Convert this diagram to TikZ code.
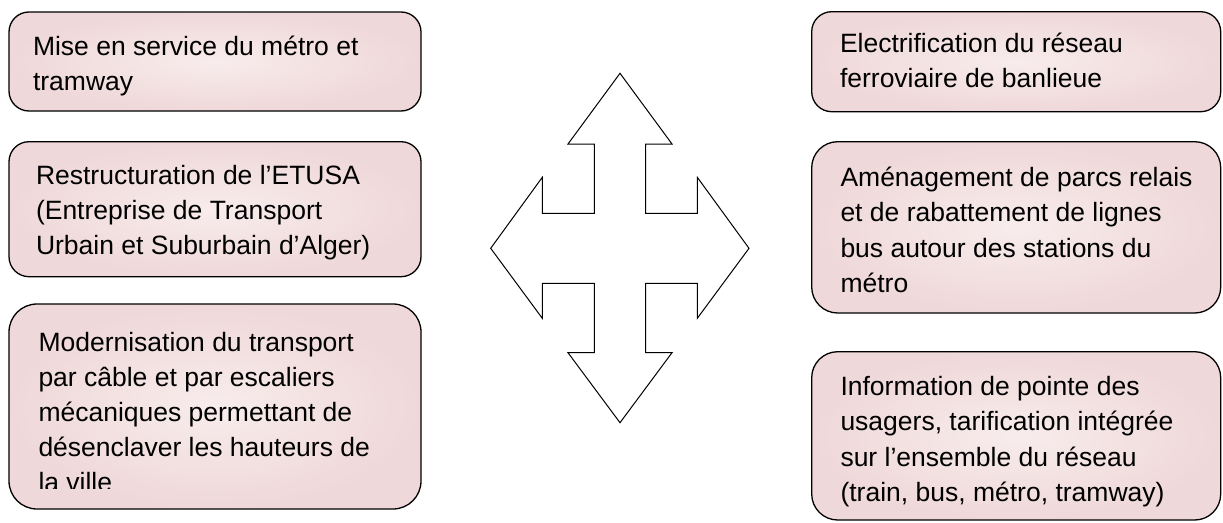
\documentclass[tikz,border=0pt]{standalone}
\usepackage{fontspec}
\setmainfont{Liberation Sans}
\definecolor{boxin}{RGB}{248,236,236}
\definecolor{boxout}{RGB}{239,216,217}
\tikzset{
  box/.style={draw=black, line width=1.3pt, inner sep=0pt, outer sep=0pt,
    inner color=boxin, outer color=boxout, rounded corners=20pt},
  txt/.style={anchor=base west, inner sep=0pt, outer sep=0pt, text=black},
  bigarrow/.style={draw=black, line width=1pt, fill=white, line join=miter}
}
\newcommand{\boxtext}[1]{\parbox[t]{420pt}{\fontsize{26.5}{35.2}\selectfont\raggedright #1}}
\begin{document}
\begin{tikzpicture}[x=1pt,y=-1pt]
\useasboundingbox (0,0) rectangle (1223,522);
% left boxes
\node[box, minimum width=412pt, minimum height=99pt] (l1) at (215,61.5) {};
\node[box, minimum width=412pt, minimum height=135pt] (l2) at (215,209.2) {};
\node[box, minimum width=412pt, minimum height=205pt, rounded corners=28pt] (l3) at (215,406.5) {};
% right boxes
\node[box, minimum width=409pt, minimum height=100pt] (r1) at (1016.2,61.7) {};
\node[box, minimum width=409pt, minimum height=171.3pt, rounded corners=26pt] (r2) at (1016.2,227.35) {};
\node[box, minimum width=409pt, minimum height=168.3pt, rounded corners=26pt] (r3) at (1016.2,435.85) {};
% texts
\node[txt] (t1) at (33,55) {\boxtext{Mise en service du métro et\\tramway}};
\node[txt] (t2) at (36,184.5) {\boxtext{Restructuration de l’ETUSA\\(Entreprise de Transport\\Urbain et Suburbain d’Alger)}};
\begin{scope}
\clip (9,304) rectangle (421,488.3);
\node[txt] (t3) at (38.5,351) {\boxtext{Modernisation du transport\\par câble et par escaliers\\mécaniques permettant de\\désenclaver les hauteurs de\\la ville}};
\end{scope}
\node[txt] (t4) at (840,52) {\boxtext{Electrification du réseau\\ferroviaire de banlieue}};
\node[txt] (t5) at (840.5,186.7) {\boxtext{Aménagement de parcs relais\\et de rabattement de lignes\\bus autour des stations du\\métro}};
\node[txt] (t6) at (840.5,395.7) {\boxtext{Information de pointe des\\usagers, tarification intégrée\\sur l’ensemble du réseau\\(train, bus, métro, tramway)}};
% four-way arrow
\draw[bigarrow] (620,73.3) -- (672,144) -- (645.7,144) -- (645.7,213.3) -- (697.3,213.3)
  -- (697.3,177.3) -- (749,248.3) -- (697.3,318.3) -- (697.3,283.3) -- (645.7,283.3)
  -- (645.7,352.7) -- (672,352.7) -- (620,422.7) -- (568,352.7) -- (594.3,352.7)
  -- (594.3,283.3) -- (542.3,283.3) -- (542.3,318.3) -- (490.7,248.3) -- (542.3,177.3)
  -- (542.3,213.3) -- (594.3,213.3) -- (594.3,144) -- (568,144) -- cycle;
\end{tikzpicture}
\end{document}
